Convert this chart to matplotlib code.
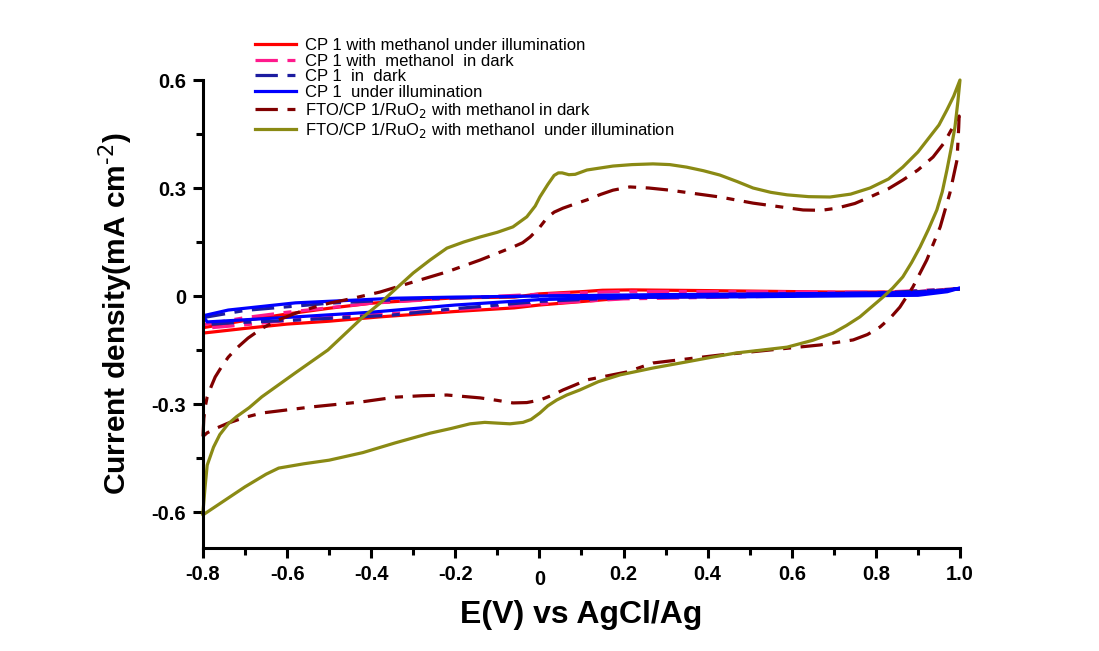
import matplotlib
matplotlib.use('Agg')
import matplotlib.pyplot as plt
import matplotlib.transforms as mtransforms
from matplotlib.ticker import MultipleLocator

plt.rcParams['font.family'] = ['Liberation Sans', 'DejaVu Sans']

# CP 1 with methanol under illumination (red)
red_x = [-0.80, -0.70, -0.60, -0.50, -0.40, -0.30, -0.20, -0.06, 0.00, 0.10, 0.15, 0.22, 0.40, 0.70, 0.90, 1.00,
         0.90, 0.80, 0.50, 0.22, 0.00, -0.06, -0.20, -0.38, -0.50, -0.60, -0.70, -0.80, -0.80]
red_y = [-0.088, -0.068, -0.050, -0.034, -0.020, -0.012, -0.005, -0.003, 0.006, 0.012, 0.016, 0.017, 0.015, 0.011, 0.011, 0.020,
         0.008, 0.004, 0.000, -0.004, -0.025, -0.033, -0.043, -0.058, -0.070, -0.078, -0.090, -0.103, -0.088]

# CP 1 with methanol in dark (pink)
pink_x = [-0.80, -0.70, -0.60, -0.40, -0.20, 0.00, 0.20, 0.50, 0.80, 1.00,
          0.80, 0.50, 0.20, 0.00, -0.20, -0.40, -0.60, -0.70, -0.80]
pink_y = [-0.080, -0.060, -0.045, -0.020, -0.006, 0.005, 0.013, 0.012, 0.010, 0.020,
          0.005, -0.002, -0.008, -0.022, -0.038, -0.052, -0.068, -0.080, -0.090]

# CP 1 in dark (navy)
navy_x = [-0.80, -0.70, -0.50, -0.30, 0.00, 0.50, 0.80, 1.00,
          0.80, 0.50, 0.20, 0.00, -0.20, -0.35, -0.58, -0.74, -0.80]
navy_y = [-0.060, -0.040, -0.020, -0.008, 0.000, 0.005, 0.008, 0.020,
          0.004, 0.000, -0.005, -0.015, -0.035, -0.053, -0.067, -0.075, -0.080]

# CP 1 under illumination (blue)
blue_x = [-0.80, -0.74, -0.58, -0.34, -0.20, 0.00, 0.30, 0.60, 0.90, 0.97, 1.00,
          0.97, 0.90, 0.50, 0.20, 0.00, -0.20, -0.40, -0.58, -0.79, -0.80]
blue_y = [-0.055, -0.039, -0.019, -0.006, -0.003, 0.000, 0.004, 0.006, 0.010, 0.016, 0.022,
          0.012, 0.002, -0.002, -0.004, -0.010, -0.025, -0.045, -0.058, -0.072, -0.055]

# FTO/CP 1/RuO2 with methanol in dark (dark red)
dred_x = [-0.800, -0.798, -0.795, -0.790, -0.780, -0.771, -0.755, -0.740, -0.720, -0.693, -0.660, -0.622,
          -0.580, -0.541, -0.500, -0.462, -0.420, -0.379, -0.300, -0.220, -0.141, -0.063, -0.040, -0.022,
          0.000, 0.018, 0.035, 0.056, 0.085, 0.113, 0.145, 0.175, 0.215, 0.260, 0.310, 0.429, 0.508,
          0.627, 0.670, 0.707, 0.750, 0.786, 0.830, 0.864, 0.900, 0.936, 0.962, 0.983, 0.998,
          0.997, 0.993, 0.976, 0.953, 0.921, 0.888, 0.857, 0.835, 0.810, 0.780, 0.746, 0.667, 0.548,
          0.429, 0.270, 0.208, 0.113, 0.085, 0.056, 0.030, 0.001, -0.030, -0.063, -0.100, -0.141,
          -0.220, -0.280, -0.343, -0.422, -0.541, -0.660, -0.700, -0.740, -0.770, -0.790, -0.800]
dred_y = [-0.390, -0.340, -0.310, -0.280, -0.250, -0.225, -0.195, -0.170, -0.145, -0.117, -0.090, -0.067,
          -0.048, -0.033, -0.020, -0.011, 0.000, 0.011, 0.039, 0.067, 0.100, 0.136, 0.148, 0.164,
          0.190, 0.217, 0.233, 0.244, 0.256, 0.267, 0.282, 0.294, 0.303, 0.300, 0.294, 0.275, 0.258,
          0.239, 0.238, 0.244, 0.257, 0.275, 0.298, 0.322, 0.350, 0.386, 0.425, 0.469, 0.500,
          0.469, 0.378, 0.286, 0.192, 0.100, 0.025, -0.031, -0.060, -0.086, -0.107, -0.122, -0.136, -0.150,
          -0.164, -0.186, -0.211, -0.233, -0.247, -0.261, -0.276, -0.289, -0.296, -0.297, -0.290, -0.283,
          -0.275, -0.277, -0.281, -0.294, -0.308, -0.325, -0.337, -0.353, -0.368, -0.380, -0.390]

# FTO/CP 1/RuO2 with methanol under illumination (olive)
olive_x = [-0.800, -0.795, -0.790, -0.775, -0.760, -0.740, -0.720, -0.690, -0.660, -0.581, -0.503, -0.422,
           -0.379, -0.350, -0.300, -0.260, -0.220, -0.180, -0.141, -0.100, -0.063, -0.030, -0.010, 0.001,
           0.020, 0.035, 0.045, 0.054, 0.070, 0.085, 0.113, 0.175, 0.220, 0.270, 0.310, 0.350, 0.390,
           0.429, 0.470, 0.508, 0.550, 0.589, 0.640, 0.691, 0.740, 0.786, 0.830, 0.864, 0.900, 0.928,
           0.950, 0.969, 0.985, 1.000,
           0.995, 0.988, 0.979, 0.969, 0.958, 0.945, 0.925, 0.905, 0.885, 0.864, 0.840, 0.817, 0.790,
           0.762, 0.730, 0.698, 0.650, 0.589, 0.530, 0.469, 0.410, 0.350, 0.270, 0.192, 0.140, 0.096,
           0.065, 0.041, 0.020, 0.001, -0.020, -0.039, -0.070, -0.101, -0.130, -0.165, -0.210, -0.260,
           -0.343, -0.420, -0.500, -0.560, -0.620, -0.650, -0.700, -0.800]
olive_y = [-0.600, -0.530, -0.470, -0.420, -0.385, -0.355, -0.335, -0.310, -0.280, -0.214, -0.150, -0.061,
           -0.020, 0.011, 0.064, 0.100, 0.133, 0.150, 0.164, 0.177, 0.192, 0.220, 0.250, 0.275,
           0.310, 0.335, 0.342, 0.342, 0.337, 0.338, 0.350, 0.361, 0.365, 0.367, 0.365, 0.358, 0.348,
           0.336, 0.318, 0.300, 0.288, 0.281, 0.276, 0.275, 0.283, 0.300, 0.325, 0.358, 0.400, 0.442,
           0.475, 0.517, 0.555, 0.600,
           0.540, 0.469, 0.410, 0.350, 0.290, 0.239, 0.185, 0.136, 0.093, 0.053, 0.022, -0.003, -0.030,
           -0.058, -0.082, -0.103, -0.123, -0.142, -0.150, -0.158, -0.170, -0.183, -0.200, -0.219, -0.238, -0.261,
           -0.275, -0.289, -0.305, -0.325, -0.343, -0.351, -0.355, -0.353, -0.351, -0.355, -0.368, -0.381,
           -0.408, -0.435, -0.456, -0.466, -0.478, -0.495, -0.530, -0.608]

x_ticks = [-0.8, -0.6, -0.4, -0.2, 0.0, 0.2, 0.4, 0.6, 0.8, 1.0]
x_labels = ['-0.8', '-0.6', '-0.4', '-0.2', '0', '0.2', '0.4', '0.6', '0.8', '1.0']
y_ticks = [-0.6, -0.3, 0.0, 0.3, 0.6]
y_labels = ['-0.6', '-0.3', '0', '0.3', '0.6']

fig = plt.figure(figsize=(10.99, 6.51), dpi=100)
ax = fig.add_axes([0.1847, 0.1582, 0.6888, 0.7189])

dashdot = (0, (7, 3, 2.5, 3))
lw = 2.3
ax.plot(red_x, red_y, color='#ff0000', lw=lw, label='CP 1 with methanol under illumination')
ax.plot(pink_x, pink_y, color='#ff1a8c', lw=lw, ls=dashdot, label='CP 1 with  methanol  in dark')
ax.plot(navy_x, navy_y, color='#1c1ca0', lw=lw, ls=dashdot, label='CP 1  in  dark')
ax.plot(blue_x, blue_y, color='#0000ff', lw=lw, label='CP 1  under illumination')
ax.plot(dred_x, dred_y, color='#800000', lw=lw, ls=dashdot, clip_on=False,
        label='FTO/CP 1/RuO$_2$ with methanol in dark')
ax.plot(olive_x, olive_y, color='#8a8a14', lw=lw, clip_on=False,
        label='FTO/CP 1/RuO$_2$ with methanol  under illumination')

ax.set_xlim(-0.8, 1.0)
ax.set_ylim(-0.7, 0.6)
ax.spines['top'].set_visible(False)
ax.spines['right'].set_visible(False)
ax.spines['left'].set_linewidth(2.2)
ax.spines['bottom'].set_linewidth(2.2)

ax.set_xticks(x_ticks)
ax.set_xticklabels(x_labels, fontsize=14.5, fontweight='bold')
ax.set_yticks(y_ticks)
ax.set_yticklabels(y_labels, fontsize=14.5, fontweight='bold')
ax.xaxis.set_minor_locator(MultipleLocator(0.1))
ax.yaxis.set_minor_locator(MultipleLocator(0.15))
ax.tick_params(which='major', direction='out', length=7, width=2.2, pad=5)
ax.tick_params(which='minor', direction='out', length=5, width=2.2)

# the "0" on the x axis sits a bit lower in the original
zero_lab = ax.get_xticklabels()[4]
zero_lab.set_transform(zero_lab.get_transform() +
                       mtransforms.ScaledTranslation(0, -4 / 72, fig.dpi_scale_trans))

ax.set_xlabel('E(V) vs AgCl/Ag', fontsize=23, fontweight='bold', labelpad=8)
ax.set_ylabel('Current density(mA cm$^{\\text{-2}}$)', fontsize=21.5, fontweight='bold', labelpad=12)

fig.legend(loc='upper left', bbox_to_anchor=(248 / 1099, 1 - 31 / 651), frameon=False,
           fontsize=12, handlelength=2.5, handletextpad=0.5, labelspacing=0.05, borderaxespad=0)

fig.savefig('out.png', dpi=100)
